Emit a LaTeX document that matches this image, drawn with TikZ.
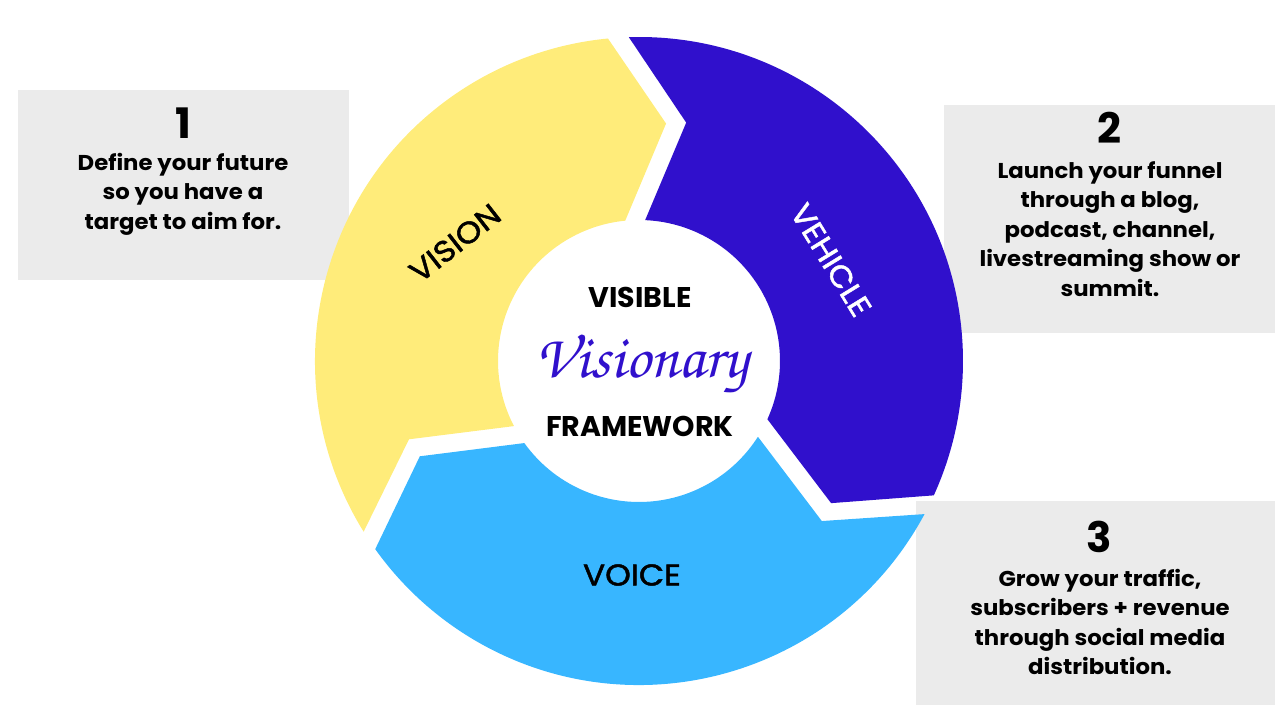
\documentclass[tikz,border=0pt]{standalone}
\usepackage{fontspec}
\setmainfont{Poppins}
\newfontfamily\ringfnt{Poppins}[FakeBold=1.6, FakeStretch=1.09]
\newfontfamily\bodyfnt{Poppins}[FakeStretch=1.06]
\definecolor{yel}{RGB}{255,236,122}
\definecolor{dblue}{RGB}{48,16,204}
\definecolor{lblue}{RGB}{56,182,255}
\definecolor{boxgray}{RGB}{235,235,235}
\newcommand{\scriptfnt}{\fontencoding{OT1}\fontfamily{pzc}\fontseries{mb}\fontshape{it}\selectfont}
\begin{document}
\begin{tikzpicture}[x=1pt,y=1pt,
  infobox/.style={fill=boxgray, draw=none, inner sep=0pt},
  numtxt/.style={font=\fontsize{42}{42}\selectfont\bfseries, inner sep=0pt},
  bodytxt/.style={font=\bodyfnt\fontsize{21.5}{29.5}\selectfont\bfseries, align=center, inner sep=0pt},
  ringlbl/.style={font=\ringfnt\fontsize{30}{30}\selectfont, inner sep=0pt},
  centertxt/.style={font=\fontsize{28.5}{28.5}\selectfont\bfseries, inner sep=0pt}]
\useasboundingbox (0,0) rectangle (1280,720);
% info boxes
\node[infobox, minimum width=331pt, minimum height=190pt] (box1) at (183.5,535) {};
\node[infobox, minimum width=331pt, minimum height=228pt] (box2) at (1109.5,501) {};
\node[infobox, minimum width=359pt, minimum height=204pt] (box3) at (1095.5,117) {};
% ring
\coordinate (ctr) at (639,359);
\foreach \rot/\col in {0/yel, -120/dblue, 120/lblue} {
  \begin{scope}[shift={(ctr)}, rotate=\rot]
    \fill[\col] (211.8:324) arc[start angle=211.8, end angle=95.5, radius=324]
      -- (83.5:239) -- (95.6:141)
      arc[start angle=95.6, end angle=207.5, radius=141]
      -- (198.8:243) -- cycle;
  \end{scope}
}
% ring labels
\node[ringlbl, rotate=38] (lvision) at (455,477) {VISION};
\node[ringlbl, rotate=-58.5, text=white] (lvehicle) at (831,460) {VEHICLE};
\node[ringlbl] (lvoice) at (632,145) {VOICE};
% centre
\node[centertxt] (cvisible) at (640,423) {VISIBLE};
\node[anchor=base, inner sep=0pt, text=dblue, font=\fontsize{62}{62}\scriptfnt] (cvisionary) at (642,342) {Visionary};
\node[centertxt] (cframework) at (640,294) {FRAMEWORK};
% box texts
\node[numtxt] (n1) at (183,597) {1};
\node[bodytxt] (t1) at (183,526) {Define your future\\so you have a\\target to aim for.};
\node[numtxt] (n2) at (1109,592) {2};
\node[bodytxt] (t2) at (1110,491) {Launch your funnel\\through a blog,\\podcast, channel,\\livestreaming show or\\summit.};
\node[numtxt] (n3) at (1099,183) {3};
\node[bodytxt] (t3) at (1100,98) {Grow your traffic,\\subscribers + revenue\\through social media\\distribution.};
\end{tikzpicture}
\end{document}
